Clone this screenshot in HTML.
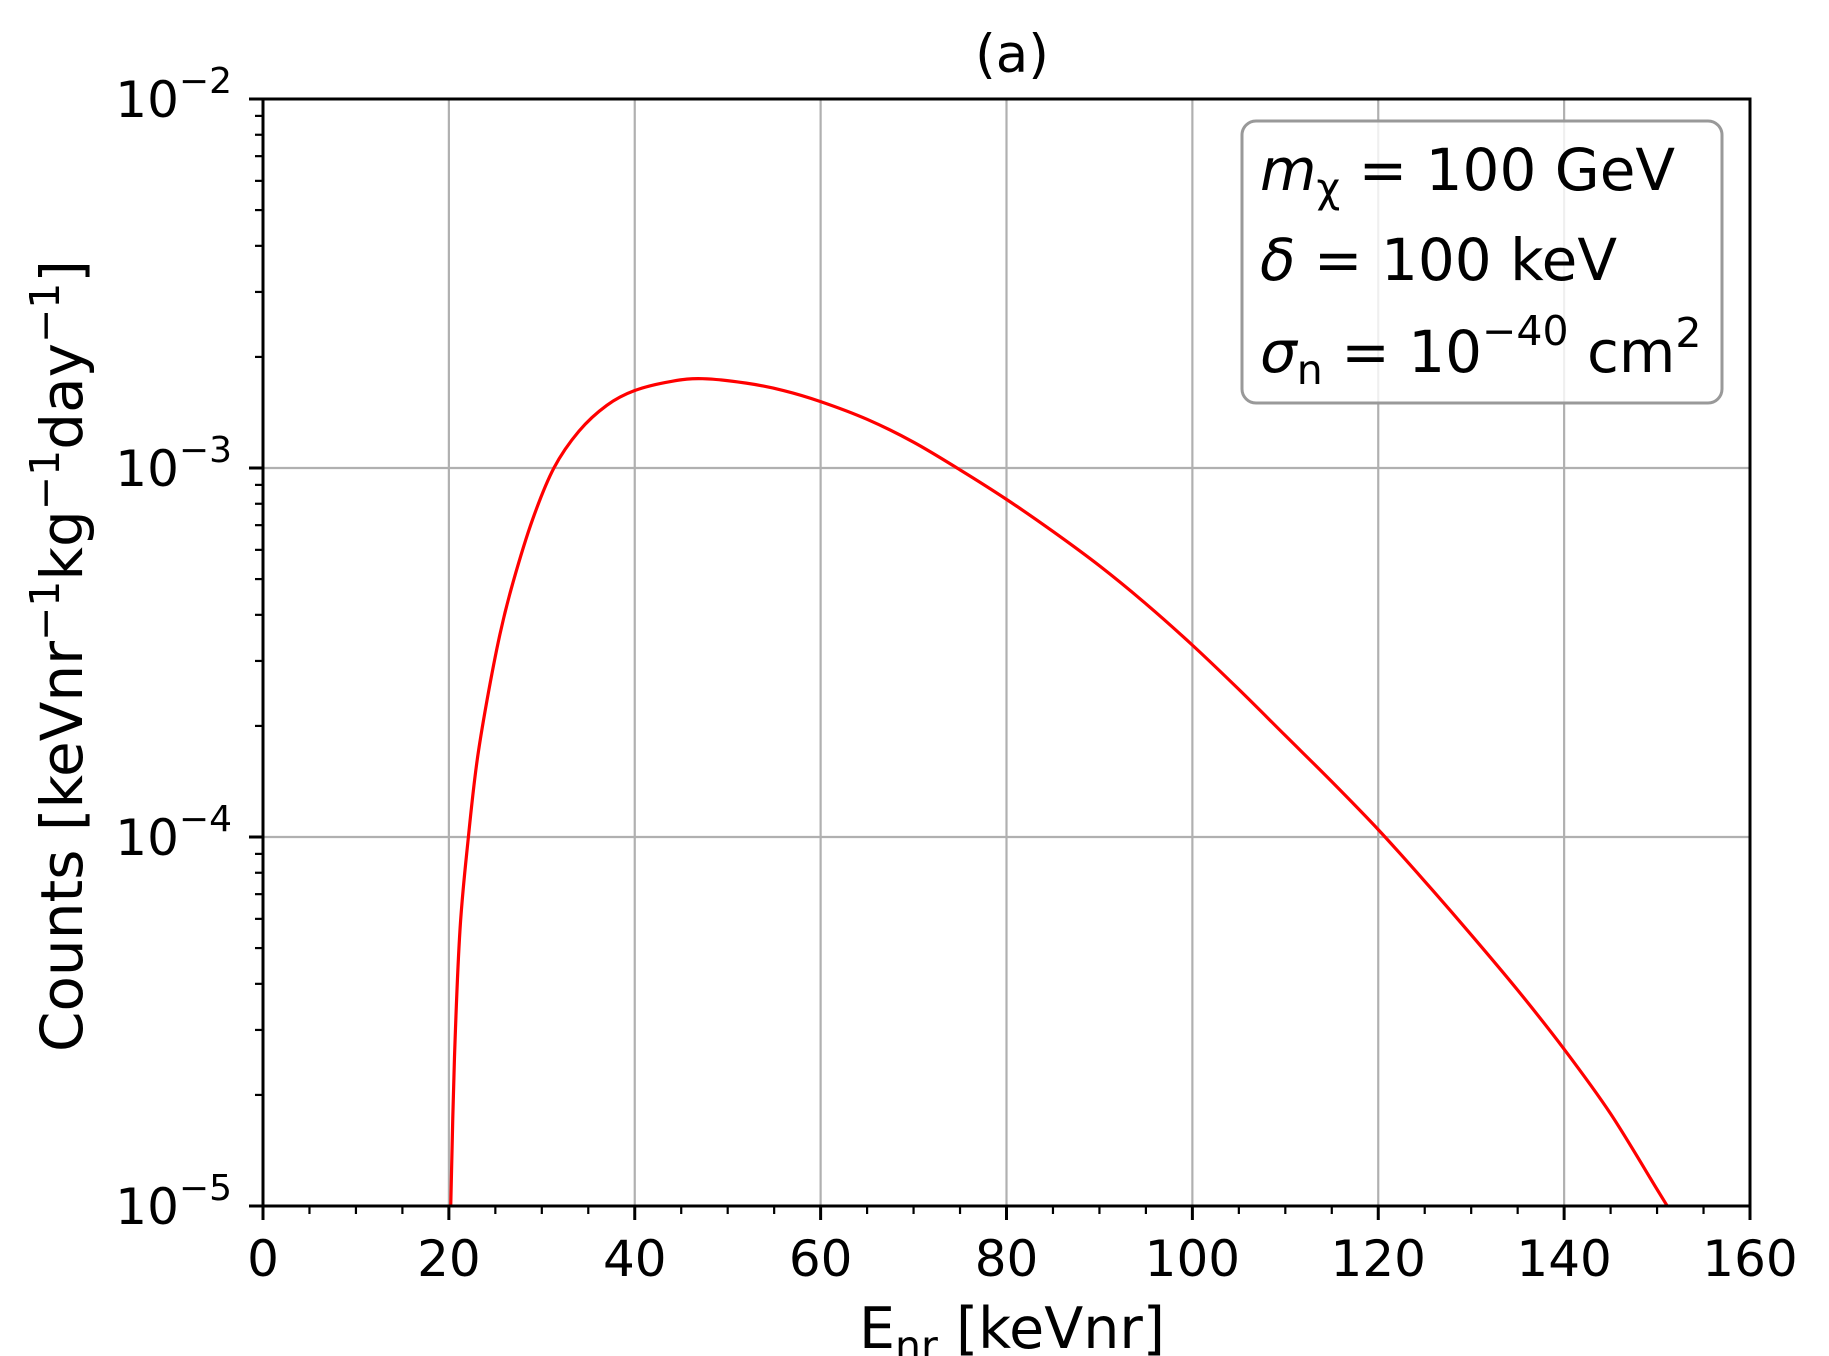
<!DOCTYPE html>
<html><head><meta charset="utf-8"><style>
html,body{margin:0;padding:0;background:#fff;}
svg{display:block;font-family:"DejaVu Sans","Liberation Sans",sans-serif;}
</style></head><body>
<svg id="s" width="1829" height="1356" xmlns="http://www.w3.org/2000/svg">
<rect width="1829" height="1356" fill="#fff"/>
<g id="grid" stroke="#b0b0b0" stroke-width="2.2"></g>
<path id="curve" fill="none" stroke="#ff0000" stroke-width="3.2"/>
<g id="axes" stroke="#000" stroke-width="3"></g>
<g id="labels" font-size="50" fill="#000"></g>
<text x="1012" y="72" font-size="53" text-anchor="middle">(a)</text>
<text x="1012" y="1348" font-size="57" text-anchor="middle">E<tspan font-size="41" dy="12">nr</tspan><tspan dy="-12"> [keVnr]</tspan></text>
<text transform="translate(82,656) rotate(-90)" font-size="58" text-anchor="middle">Counts [keVnr<tspan font-size="41" dy="-23">−1</tspan><tspan dy="23">kg</tspan><tspan font-size="41" dy="-23">−1</tspan><tspan dy="23">day</tspan><tspan font-size="41" dy="-23">−1</tspan><tspan dy="23">]</tspan></text>
<rect x="1242" y="121" width="480" height="282" rx="14" fill="#fff" fill-opacity="0.8" stroke="#999" stroke-width="3"/>
<g font-size="58">
<text x="1260" y="190"><tspan font-style="italic">m</tspan><tspan font-size="41" dy="12">χ</tspan><tspan dy="-12"> = 100 GeV</tspan></text>
<text x="1260" y="280"><tspan font-style="italic">δ</tspan> = 100 keV</text>
<text x="1260" y="372"><tspan font-style="italic">σ</tspan><tspan font-size="41" dy="12">n</tspan><tspan dy="-12"> = 10</tspan><tspan font-size="41" dy="-27">−40</tspan><tspan dy="27"> cm</tspan><tspan font-size="41" dy="-25">2</tspan></text>
</g>
</svg>
<script>
const L=263,R=1750,T=99,B=1206,D=369;
const X=x=>L+x*(R-L)/160, Y=l=>T+(-2-l)*D;
const ns="http://www.w3.org/2000/svg";
function el(p,t,a){const e=document.createElementNS(ns,t);for(const k in a)e.setAttribute(k,a[k]);p.appendChild(e);return e;}
const g=document.getElementById('grid'),ax=document.getElementById('axes'),lb=document.getElementById('labels');
for(let v=20;v<160;v+=20)el(g,'line',{x1:X(v),x2:X(v),y1:T,y2:B});
for(let d=-3;d>=-4;d--)el(g,'line',{x1:L,x2:R,y1:Y(d),y2:Y(d)});
const pts=[[20.2,-5],[20.6,-4.6],[21.2,-4.25],[22.1,-4.0],[23,-3.8],[24.1,-3.63],[25.5,-3.45],[26.9,-3.31],[29,-3.14],[31.3,-3.0],[34,-2.9],[37,-2.83],[40,-2.79],[44,-2.765],[47.3,-2.758],[52,-2.77],[56,-2.79],[60,-2.82],[65,-2.868],[70,-2.93],[75,-3.005],[80,-3.085],[85,-3.172],[90,-3.265],[95,-3.368],[100,-3.48],[105,-3.6],[110,-3.725],[115,-3.85],[120,-3.98],[125,-4.12],[130,-4.265],[135,-4.415],[140,-4.575],[145,-4.75],[150,-4.955],[151.1,-5]].map(p=>[X(p[0]),Y(p[1])]);
let d='M'+pts[0].join(',');
for(let i=0;i<pts.length-1;i++){const p0=pts[Math.max(0,i-1)],p1=pts[i],p2=pts[i+1],p3=pts[Math.min(pts.length-1,i+2)];
d+=` C${p1[0]+(p2[0]-p0[0])/6},${p1[1]+(p2[1]-p0[1])/6} ${p2[0]-(p3[0]-p1[0])/6},${p2[1]-(p3[1]-p1[1])/6} ${p2[0]},${p2[1]}`;}
document.getElementById('curve').setAttribute('d',d);
el(ax,'rect',{x:L,y:T,width:R-L,height:B-T,fill:'none'});
for(let v=0;v<=160;v+=5){const maj=v%20==0;el(ax,'line',{x1:X(v),x2:X(v),y1:B,y2:B+(maj?14:8),'stroke-width':maj?3:2.2});
if(maj){const t=el(lb,'text',{x:X(v),y:1276,'text-anchor':'middle'});t.textContent=v;}}
for(let dd=-5;dd<=-2;dd++){el(ax,'line',{x1:L-14,x2:L,y1:Y(dd),y2:Y(dd)});
const t=el(lb,'text',{x:232,y:Y(dd)+18,'text-anchor':'end'});t.innerHTML='10<tspan font-size="36" dy="-24">−'+(-dd)+'</tspan>';
if(dd<-2)for(let m=2;m<10;m++)el(ax,'line',{x1:L-8,x2:L,y1:Y(dd+Math.log10(m)),y2:Y(dd+Math.log10(m)),'stroke-width':2.2});}
</script>
</body></html>
